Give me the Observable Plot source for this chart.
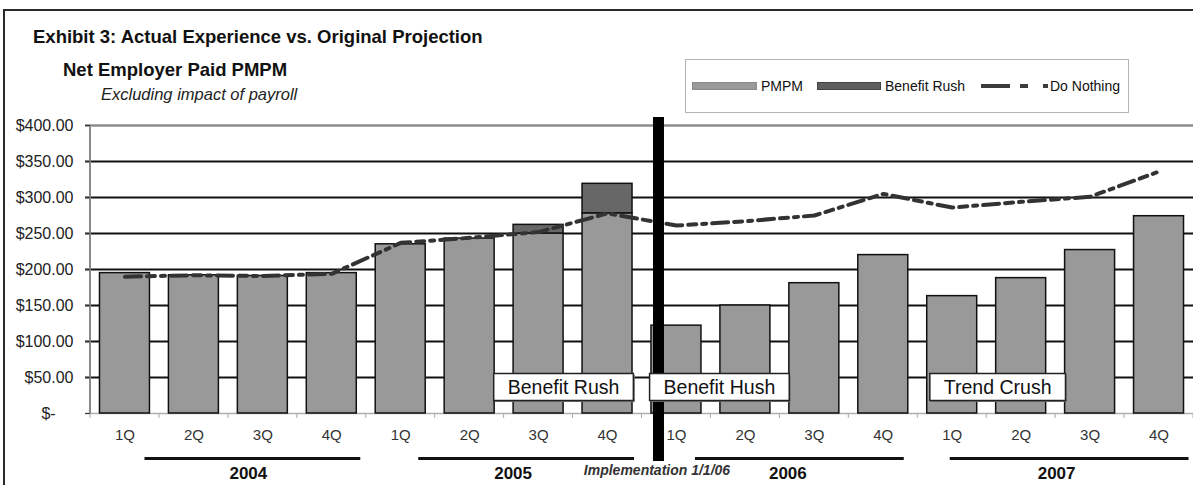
<!DOCTYPE html>
<html>
<head>
<meta charset="utf-8">
<script src="https://cdn.jsdelivr.net/npm/d3@7"></script>
<script src="https://cdn.jsdelivr.net/npm/@observablehq/plot@0.6"></script>
<style>
  body { margin: 0; background: #fff; font-family: "Liberation Sans", Arial, sans-serif; }
  #wrap { position: relative; width: 1193px; height: 485px; overflow: hidden; background: #fff; }
  .abs { position: absolute; white-space: nowrap; line-height: 1; }
  #frameTop { left: 3px; top: 9px; width: 1190px; height: 2px; background: #2a2a2a; }
  #frameLeft { left: 3px; top: 9px; width: 2px; height: 476px; background: #2a2a2a; }
  #title { left: 33px; top: 28px; font-size: 18.5px; font-weight: bold; color: #111; }
  #subtitle { left: 63px; top: 61px; font-size: 18.5px; font-weight: bold; color: #111; }
  #note { left: 101px; top: 86px; font-size: 16.5px; font-style: italic; color: #222; }
  #legend { left: 685px; top: 59px; width: 442px; height: 52px; border: 1px solid #b5b5b5; background: #fff; }
  .sw { position: absolute; height: 8px; top: 22px; }
  .lt { position: absolute; top: 19px; font-size: 14px; color: #111; line-height: 1; }
  .dash { position: absolute; height: 4px; top: 24px; background: #3c3c3c; }
  #chart { left: 0; top: 115px; }
</style>
</head>
<body>
<div id="wrap">
  <div class="abs" id="title"></div>
  <div class="abs" id="subtitle"></div>
  <div class="abs" id="note"></div>
  <div class="abs" id="legend"></div>
  <div class="abs" id="chart"></div>
  <div class="abs" id="frameTop"></div>
  <div class="abs" id="frameLeft"></div>
</div>
<script>
// ---- text ----
const titleText = "Exhibit 3: Actual Experience vs. Original Projection";
const subtitleText = "Net Employer Paid PMPM";
const noteText = "Excluding impact of payroll";
const seriesNames = ["PMPM", "Benefit Rush", "Do Nothing"];
const implementationLabel = "Implementation 1/1/06";
const implementationAt = "2006-1Q";

// ---- categories ----
const years = ["2004", "2005", "2006", "2007"];
const quarters = ["1Q", "2Q", "3Q", "4Q"];

// ---- series values (by quarter, 1Q 2004 .. 4Q 2007) ----
const pmpm        = [195, 192, 191, 195, 235, 243, 250, 278, 122, 150, 181, 220, 163, 188, 227, 274];
const benefitRush = [  0,   0,   0,   0,   0,   0,  12,  41,   0,   0,   0,   0,   0,   0,   0,   0];
const doNothing   = [190, 192, 191, 194, 237, 244, 252, 278, 261, 267, 275, 305, 286, 294, 301, 336];

// ---- y ticks ----
const yTicks = [0, 50, 100, 150, 200, 250, 300, 350, 400];

// ---- annotation labels ----
const annotationLabels = ["Benefit Rush", "Benefit Hush", "Trend Crush"];
const annotationAnchors = ["2005-4Q", "2006-2Q", "2007-2Q"];

// ---- build table ----
const keys = [];
years.forEach(y => quarters.forEach(q => keys.push(`${y}-${q}`)));
const rows = keys.map((k, i) => ({
  key: k, pmpm: pmpm[i], rush: benefitRush[i], top: pmpm[i] + benefitRush[i], doNothing: doNothing[i]
}));
const rushRows = rows.filter(d => d.rush > 0);

// ---- header texts ----
document.getElementById("title").textContent = titleText;
document.getElementById("subtitle").textContent = subtitleText;
document.getElementById("note").textContent = noteText;

// ---- legend ----
const legend = document.getElementById("legend");
legend.innerHTML = `
  <div class="sw" style="left:6px;width:65px;background:#9a9a9a;border:1px solid #8a8a8a;box-sizing:border-box"></div>
  <div class="lt" style="left:75px">${seriesNames[0]}</div>
  <div class="sw" style="left:131px;width:64px;background:#5e5e5e;border:1px solid #444;box-sizing:border-box"></div>
  <div class="lt" style="left:199px">${seriesNames[1]}</div>
  <div class="dash" style="left:295px;width:29px"></div>
  <div class="dash" style="left:334px;width:8px"></div>
  <div class="dash" style="left:357px;width:5px"></div>
  <div class="lt" style="left:364px">${seriesNames[2]}</div>`;

// ---- custom render pieces ----
function axisFrame(index, scales, values, dims) {
  const g = d3.create("svg:g");
  const left = dims.marginLeft, top = dims.marginTop, bottom = dims.height - dims.marginBottom;
  const x = scales.x, bw = x.bandwidth();
  for (let i = 0; i <= keys.length; i++) {
    let bx;
    if (i === 0) bx = left;
    else if (i === keys.length) bx = dims.width - dims.marginRight;
    else bx = (x(keys[i - 1]) + bw + x(keys[i])) / 2;
    g.append("line").attr("x1", bx).attr("x2", bx).attr("y1", bottom).attr("y2", bottom + 5)
      .attr("stroke", "#aaa").attr("stroke-width", 1);
  }
  g.append("line").attr("x1", left).attr("x2", left).attr("y1", top).attr("y2", bottom)
    .attr("stroke", "#8a8a8a").attr("stroke-width", 2);
  return g.node();
}
function implementationBar(index, scales, values, dims) {
  const x = scales.x;
  const cx = x(implementationAt) + 7.5;
  return d3.create("svg:rect")
    .attr("x", cx - 5.5).attr("width", 11)
    .attr("y", dims.marginTop - 8).attr("height", dims.height - dims.marginTop - 16)
    .attr("fill", "#000").node();
}

const annotationOffsets = [-44, -26, -23.5];
const yearLineInsets = [[45, -4], [43, -2], [44, 4], [23, -5]];
const yearLabelOffsets = [-14.5, -25.5, -26.5, -33.5];

const chart = Plot.plot({
  width: 1193,
  height: 370,
  marginLeft: 90,
  marginRight: 0,
  marginTop: 10,
  marginBottom: 72,
  style: { fontFamily: "Liberation Sans, Arial, sans-serif", background: "none", overflow: "visible" },
  x: { type: "band", domain: keys, paddingInner: 0.275, paddingOuter: 0.1375, round: false, label: null },
  y: { domain: [0, 400], label: null },
  marks: [
    Plot.ruleY(yTicks.filter(v => v > 0 && v < 400), { stroke: "#111", strokeWidth: 2, insetLeft: -5 }),
    Plot.ruleY([400], { stroke: "#8c8c8c", strokeWidth: 2.5, insetLeft: -5 }),
    Plot.ruleY([0], { stroke: "#b0b0b0", strokeWidth: 1.5, insetLeft: -5 }),
    Plot.barY(rows, { x: "key", y1: 0, y2: "pmpm", fill: "#999999", stroke: "#111", strokeWidth: 1.5 }),
    Plot.barY(rushRows, { x: "key", y1: "pmpm", y2: "top", fill: "#676767", stroke: "#111", strokeWidth: 1.5 }),
    Plot.line(rows, { x: "key", y: "doNothing", stroke: "#333", strokeWidth: 4,
      strokeDasharray: "16,6,8,6,4,6" }),
    axisFrame,
    implementationBar,
    ...annotationLabels.map((lab, i) => Plot.text([lab], {
      x: () => annotationAnchors[i], text: d => d, frameAnchor: "bottom", dy: -19.5, dx: annotationOffsets[i],
      fontSize: 19.5, fill: "#111"
    })),
    Plot.axisY({ ticks: yTicks, tickFormat: d => d === 0 ? "$-\u2007\u2007" : "$" + d.toFixed(2),
      tickSize: 5, tickPadding: 12, fontSize: 16, fill: "#222", stroke: "#333", label: null }),
    Plot.axisX({ tickFormat: d => d.split("-")[1], tickSize: 0, tickPadding: 16, fontSize: 15,
      fill: "#333", label: null }),
    ...years.map((yr, i) => Plot.ruleY([yr], { x1: y => `${y}-1Q`, x2: y => `${y}-4Q`, y: () => 0, dy: 45,
      insetLeft: yearLineInsets[i][0], insetRight: yearLineInsets[i][1], stroke: "#111", strokeWidth: 3 })),
    ...years.map((yr, i) => Plot.text([yr], { x: y => `${y}-3Q`, text: d => d, frameAnchor: "bottom",
      dy: 65, dx: yearLabelOffsets[i], fontSize: 17, fontWeight: "bold", fill: "#111" })),
    Plot.text([implementationLabel], { x: () => implementationAt, text: d => d, frameAnchor: "bottom",
      dy: 61, dx: -19.5, fontSize: 14, fontWeight: "bold", fontStyle: "italic", fill: "#333" })
  ]
});
document.getElementById("chart").appendChild(chart);

// boxes behind annotation labels
const labelSet = new Set(annotationLabels);
chart.querySelectorAll("text").forEach(t => {
  if (!labelSet.has(t.textContent)) return;
  const b = t.getBBox();
  const padX = 14, padY = 2.5;
  const ns = "http://www.w3.org/2000/svg";
  const shadow = document.createElementNS(ns, "rect");
  const r = document.createElementNS(ns, "rect");
  [shadow, r].forEach(el => {
    if (t.getAttribute("transform")) el.setAttribute("transform", t.getAttribute("transform"));
    el.setAttribute("x", b.x - padX);
    el.setAttribute("y", b.y - padY);
    el.setAttribute("width", b.width + 2 * padX);
    el.setAttribute("height", b.height + 2 * padY);
  });
  shadow.setAttribute("fill", "#777");
  shadow.setAttribute("transform", (t.getAttribute("transform") || "") + " translate(1.5,1.5)");
  r.setAttribute("fill", "#fff");
  r.setAttribute("stroke", "#222");
  r.setAttribute("stroke-width", 1.5);
  t.parentNode.insertBefore(shadow, t);
  t.parentNode.insertBefore(r, t);
});
</script>
</body>
</html>
